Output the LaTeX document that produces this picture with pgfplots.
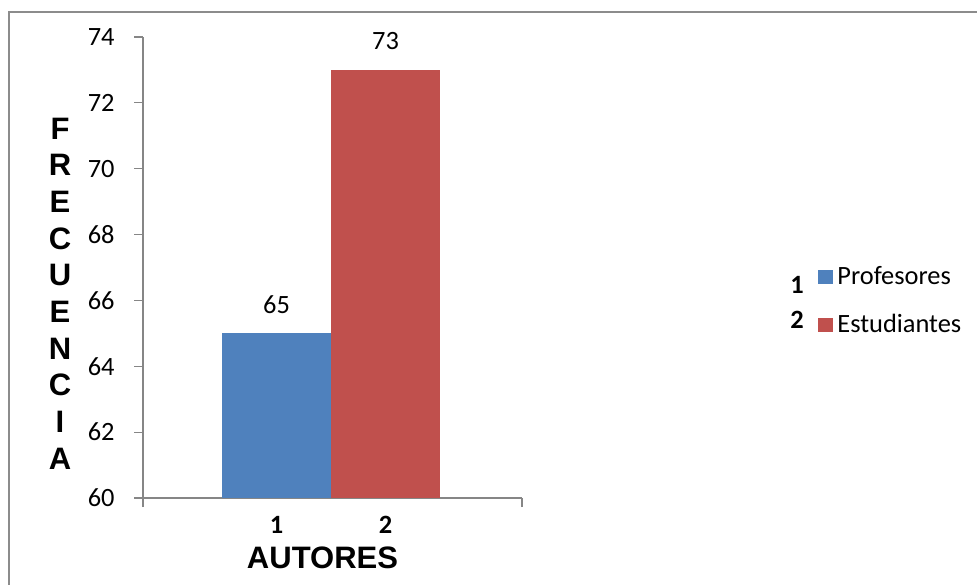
\documentclass[border=0pt]{standalone}
\usepackage{fontspec}
\setmainfont{Carlito}
\newfontfamily\arial{Liberation Sans}
\usepackage{pgfplots}
\pgfplotsset{compat=1.18}
\definecolor{barblue}{HTML}{4F81BD}
\definecolor{barred}{HTML}{C0504D}
\definecolor{axgray}{HTML}{868686}
\definecolor{framegray}{HTML}{8C8C8C}
\begin{document}
\begin{tikzpicture}
\useasboundingbox (0pt,0pt) rectangle (488.5pt,-292pt);
\draw[framegray, line width=0.8pt] (4.5pt,-300pt) -- (4.5pt,-6pt) -- (495pt,-6pt);
\begin{axis}[
  at={(71.5pt,-249pt)}, anchor=south west,
  scale only axis, width=189.5pt, height=230.5pt,
  xmin=-1.2248, xmax=2.2523, ymin=60, ymax=74,
  ytick={60,62,...,74},
  ybar, bar width=54.5pt, bar shift=0pt,
  axis x line*=bottom, axis y line*=left,
  axis line style={axgray, line width=0.6pt},
  tick style={axgray, line width=0.6pt},
  tick align=outside,
  major tick length=4.5pt,
  xtick={-1.2248,2.2523}, xticklabels={},
  extra x ticks={0,1},
  extra x tick labels={\textbf{1},\textbf{2}},
  extra x tick style={major tick length=0pt, xticklabel style={font=\bfseries\fontsize{13.2}{15}\selectfont, inner sep=0pt, anchor=north, yshift=-9pt}},
  /pgf/number format/assume math mode=true,
  yticklabel style={font=\fontsize{13.2}{15}\selectfont, inner sep=0pt, anchor=east, xshift=-9.5pt},
  ylabel={F\\R\\E\\C\\U\\E\\N\\C\\I\\A},
  ylabel style={rotate=-90, at={(axis description cs:-0.219,0.4435)}, anchor=center, align=center, font=\arial\bfseries\fontsize{15.5}{18.35}\selectfont},
  xlabel={AUTORES},
  xlabel style={at={(axis description cs:0.4736,-0.129)}, anchor=center, font=\arial\bfseries\fontsize{15.5}{18}\selectfont},
  nodes near coords,
  nodes near coords style={font=\fontsize{13.2}{15}\selectfont, inner sep=0pt, anchor=south, yshift=9.8pt, black},
  legend style={at={(axis description cs:1.781,0.427)}, anchor=west, draw=none, fill=none, inner sep=0pt, font=\fontsize{13.2}{15}\selectfont, row sep=9.5pt},
  legend cell align=left,
  legend image code/.code={\fill[#1] (0pt,-3.5pt) rectangle (7.5pt,3.5pt);},
]
\addplot[fill=barblue, draw=none] coordinates {(0,65)};
\addplot[fill=barred, draw=none] coordinates {(1,73)};
\legend{Profesores,Estudiantes}
\end{axis}
\node[font=\bfseries\fontsize{13.2}{15}\selectfont, inner sep=0pt] at (398.5pt,-142.5pt) {1};
\node[font=\bfseries\fontsize{13.2}{15}\selectfont, inner sep=0pt] at (398.5pt,-160pt) {2};
\end{tikzpicture}
\end{document}
